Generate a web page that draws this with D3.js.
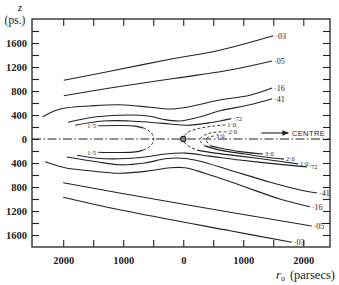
<!DOCTYPE html>
<html>
<head>
<meta charset="utf-8">
<script src="https://cdnjs.cloudflare.com/ajax/libs/d3/7.8.5/d3.min.js"></script>
<style>
    body{ margin:0; background:#fff; }
    svg{ display:block; }
    .lab text{ font-family:"Liberation Serif","DejaVu Serif",serif; font-weight:bold; fill:#222; }
</style>
</head>
<body>
<svg id="svg" width="339" height="285"></svg>
<script>
// axis ticks (r in parsecs, negative = anticentre side; z in ps, negative = below plane)
var rTicks  = [-2000, -1500, -1000, -500, 0, 500, 1000, 1500, 2000];
var rLabels = [-2000, -1000, 0, 1000, 2000];
var zTicks  = [-1600, -1400, -1200, -1000, -800, -600, -400, -200, 0, 200, 400, 600, 800, 1000, 1200, 1400, 1600, 1800];
var zLabels = [-1600, -1200, -800, -400, 0, 400, 800, 1200, 1600];

// contour lines [r, z]
var c03Up = [[-1990,980],[-1220,1130],[-220,1330],[610,1480],[1500,1720]];
var c03Lo = [[-2000,-970],[-1060,-1180],[780,-1530],[1810,-1720]];
var c05Up = [[-1990,720],[-1220,850],[-220,1000],[780,1150],[1480,1300]];
var c05Lo = [[-2000,-730],[-1060,-900],[780,-1220],[2140,-1450]];
var c16Up = [[-2340,370],[-2140,470],[-1940,520],[-1560,550],[-1060,570],[-560,530],[-220,500],[60,530],[610,650],[1110,730],[1480,850]];
var c16Lo = [[-2300,-380],[-1970,-480],[-1560,-530],[-1060,-570],[-560,-530],[-220,-480],[30,-480],[360,-570],[950,-770],[1610,-1000],[2110,-1130]];
var c41Up = [[-1920,280],[-1440,370],[-890,400],[-560,380],[-340,330],[-60,300],[280,370],[610,470],[1110,570],[1480,670]];
var c41Lo = [[-1940,-300],[-1440,-380],[-1060,-430],[-640,-400],[-300,-330],[-20,-320],[280,-370],[780,-520],[1450,-720],[1950,-850],[2230,-900]];
var c72Up = [[-1800,230],[-1340,300],[-890,300],[-560,280],[-220,250],[60,230],[440,270],[660,310],[800,340]];
var c72Lo = [[-1770,-270],[-1440,-320],[-1060,-330],[-640,-300],[-300,-250],[30,-235],[440,-285],[940,-350],[1530,-415],[2060,-465]];
var c15Up = [[-1420,220],[-1060,225],[-800,215],[-670,185]];
var c15Loop = [[-670,185],[-590,150],[-520,85],[-490,0],[-520,-85],[-590,-150],[-670,-185]];
var c15Lo = [[-1420,-220],[-1060,-225],[-800,-215],[-670,-185]];
var c10Dash = [[700,235],[500,215],[280,180],[110,130],[30,70],[0,0],[30,-70],[110,-130],[230,-185]];
var c10Lo = [[230,-185],[530,-235],[945,-285],[1445,-350],[1910,-415]];
var c20Dash = [[720,120],[530,112],[395,85],[310,35],[285,0],[300,-60],[360,-115]];
var c20Lo = [[360,-115],[610,-185],[1030,-250],[1360,-300],[1680,-335]];
var c30Dash = [[510,50],[440,38],[395,15],[385,-15],[410,-70],[460,-115]];
var c30Lo = [[460,-115],[610,-150],[945,-210],[1330,-250]];

var contours = [
    {pts:c03Up, lab:"·03", at:"end"},
    {pts:c03Lo, lab:"·03", at:"end"},
    {pts:c05Up, lab:"·05", at:"end"},
    {pts:c05Lo, lab:"·05", at:"end"},
    {pts:c16Up, lab:"·16", at:"end"},
    {pts:c16Lo, lab:"·16", at:"end"},
    {pts:c41Up, lab:"·41", at:"end"},
    {pts:c41Lo, lab:"·41", at:"end"},
    {pts:c72Up, lab:"·72", at:"end", small:true},
    {pts:c72Lo, lab:"·72", at:"end", small:true},
    {pts:c15Up, lab:"1·5", at:"start", left:true, small:true},
    {pts:c15Lo, lab:"1·5", at:"start", left:true, small:true},
    {pts:c15Loop, dash:true},
    {pts:c10Dash, lab:"1·0", at:"start", dash:true, small:true},
    {pts:c10Lo, lab:"1·0", at:"end", small:true},
    {pts:c20Dash, lab:"2·0", at:"start", dash:true, small:true},
    {pts:c20Lo, lab:"2·0", at:"end", small:true},
    {pts:c30Dash, lab:"3·0", at:"start", dash:true, small:true},
    {pts:c30Lo, lab:"3·0", at:"end", small:true}
];

var svg = d3.select("svg");
var x = d3.scaleLinear().domain([-2520, 2445]).range([32, 330]);
var y = d3.scaleLinear().domain([-1800, 2000]).range([247, 19]);
var ink = "#222";

// ticks pointing inwards on all four sides
svg.append("g").attr("transform","translate(32,0)")
    .call(d3.axisLeft(y).tickValues(zTicks).tickSize(-7).tickFormat(""));
svg.append("g").attr("transform","translate(330,0)")
    .call(d3.axisRight(y).tickValues(zTicks).tickSize(-7).tickFormat(""));
svg.append("g").attr("transform","translate(0,19)")
    .call(d3.axisTop(x).tickValues(rTicks).tickSize(-7).tickFormat(""));
svg.append("g").attr("transform","translate(0,247)")
    .call(d3.axisBottom(x).tickValues(rTicks).tickSize(-7).tickFormat(""));

var fmt = function(d){ return Math.abs(d); };
svg.append("g").attr("class","lab").attr("transform","translate(32,0)")
    .call(d3.axisLeft(y).tickValues(zLabels).tickSize(0).tickPadding(5).tickFormat(fmt))
    .attr("font-family", null).attr("font-size", 10.5);
svg.append("g").attr("class","lab").attr("transform","translate(0,247)")
    .call(d3.axisBottom(x).tickValues(rLabels).tickSize(0).tickPadding(10).tickFormat(fmt))
    .attr("font-family", null).attr("font-size", 10.5);
svg.selectAll(".domain").remove();
svg.selectAll(".tick line").attr("stroke", ink).attr("stroke-width", 1.1);

svg.append("rect")
    .attr("x", x.range()[0]).attr("y", y.range()[1])
    .attr("width", x.range()[1] - x.range()[0]).attr("height", y.range()[0] - y.range()[1])
    .attr("fill", "none").attr("stroke", ink).attr("stroke-width", 1.3);

// plane z = 0
svg.append("line")
    .attr("x1", x.range()[0]).attr("x2", x.range()[1])
    .attr("y1", y(0)).attr("y2", y(0))
    .attr("stroke", ink).attr("stroke-width", 1)
    .attr("stroke-dasharray", "9,2.5,1.5,2.5");

var line = d3.line()
    .x(function(d){ return x(d[0]); })
    .y(function(d){ return y(d[1]); })
    .curve(d3.curveCatmullRom.alpha(0.5));

var g = svg.append("g");
g.selectAll("path").data(contours).enter().append("path")
    .attr("d", function(d){ return line(d.pts); })
    .attr("fill", "none")
    .attr("stroke", ink)
    .attr("stroke-width", function(d){ return d.dash ? 0.9 : 1.15; })
    .attr("stroke-dasharray", function(d){ return d.dash ? "3,2" : null; });

g.selectAll("text").data(contours.filter(function(d){ return d.lab; })).enter().append("text")
    .attr("x", function(d){
        var p = d.at == "start" ? d.pts[0] : d.pts[d.pts.length-1];
        return x(p[0]) + (d.left ? -2 : 2);
    })
    .attr("y", function(d){
        var p = d.at == "start" ? d.pts[0] : d.pts[d.pts.length-1];
        return y(p[1]) + (d.small ? 2.3 : 3);
    })
    .attr("text-anchor", function(d){ return d.left ? "end" : "start"; })
    .attr("font-family", "Liberation Serif, serif")
    .attr("font-size", function(d){ return d.small ? 6.5 : 8; })
    .attr("fill", ink)
    .text(function(d){ return d.lab; });

// sun
svg.append("circle").attr("cx", x(0)).attr("cy", y(0)).attr("r", 2.6)
    .attr("fill", "#888").attr("stroke", ink).attr("stroke-width", 1.1);

// direction of the centre
svg.append("defs").append("marker").attr("id","arr")
    .attr("viewBox","0 0 10 10").attr("refX",9).attr("refY",5)
    .attr("markerWidth",6).attr("markerHeight",6).attr("orient","auto")
    .append("path").attr("d","M0,1L10,5L0,9Z").attr("fill",ink);
svg.append("line")
    .attr("x1", x(1300)).attr("x2", x(1750)).attr("y1", y(100)).attr("y2", y(100))
    .attr("stroke", ink).attr("stroke-width", 1.1).attr("marker-end","url(#arr)");
svg.append("text").attr("x", x(1810)).attr("y", y(100) + 3)
    .attr("font-family", "Liberation Sans, sans-serif").attr("font-size", 7.5)
    .attr("letter-spacing", 0.4).attr("fill", ink).text("CENTRE");

// axis titles
svg.append("text").attr("x", 20).attr("y", 11).attr("text-anchor","middle")
    .attr("font-family","Liberation Serif, serif").attr("font-style","italic")
    .attr("font-size", 11).attr("fill", ink).text("z");
svg.append("text").attr("x", 15).attr("y", 23.5).attr("text-anchor","middle")
    .attr("font-family","Liberation Serif, serif")
    .attr("font-size", 11.5).attr("fill", ink).text("(ps.)");
var xt = svg.append("text").attr("x", 276).attr("y", 279)
    .attr("font-family","Liberation Serif, serif")
    .attr("font-size", 12.5).attr("fill", ink);
xt.append("tspan").attr("font-style","italic").text("r");
xt.append("tspan").attr("font-size", 8).attr("dy", 2).text("o");
xt.append("tspan").attr("dx", 5).attr("dy", -2).text("(parsecs)");
</script>
</body>
</html>
